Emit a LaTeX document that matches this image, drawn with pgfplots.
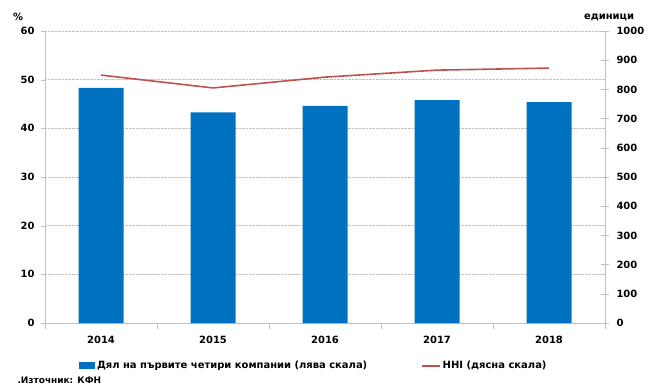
\documentclass[border=0pt]{standalone}
\usepackage{fontspec}
\setmainfont{DejaVu Sans}
\usepackage{pgfplots}
\pgfplotsset{compat=1.18}
\definecolor{barblue}{HTML}{0070C0}
\definecolor{hhired}{HTML}{C0504D}
\definecolor{axgray}{HTML}{BFBFBF}
\newcommand{\lbl}{\bfseries\fontsize{10}{12}\selectfont}
\begin{document}
\begin{tikzpicture}
\pgfplotsset{
  base/.style={
    scale only axis, width=560bp, height=292bp,
    at={(0,0)}, anchor=south west,
    xmin=-0.5, xmax=4.5,
    tick label style={font=\lbl, text=black},
    axis line style={axgray},
    tick style={axgray},
    major tick length=4bp,
  }
}
% bars, left scale
\begin{axis}[base,
  ymin=0, ymax=60, ytick={0,10,...,60},
  yticklabels={0,10,20,30,40,50,60},
  yticklabel style={xshift=-3bp},
  axis y line*=left, axis x line*=bottom,
  xtick={0,...,4}, xticklabels={2014,2015,2016,2017,2018},
  major x tick style={draw=none},
  minor xtick={-0.5,0.5,...,4.5},
  minor tick length=6bp,
  tick align=outside,
  xticklabel style={yshift=-6bp},
  ymajorgrids, grid style={densely dotted, gray!50},
  legend style={at={(0.48,-0.147)}, anchor=center, draw=none, fill=none,
    font=\lbl, legend columns=2,
    /tikz/every even column/.append style={column sep=52bp}},
]
\addplot[ybar, bar width=45bp, fill=barblue, draw=none,
  legend image code/.code={\fill[barblue] (0bp,-3.5bp) rectangle (16bp,3.5bp);}]
  coordinates {(0,48.3)(1,43.3)(2,44.6)(3,45.8)(4,45.4)};
\addlegendentry{Дял на първите четири компании (лява скала)}
\addlegendimage{legend image code/.code={\draw[hhired, line width=1.5pt] (0bp,0bp) -- (18bp,0bp);}}
\addlegendentry{HHI (дясна скала)}
\end{axis}
% HHI, right scale
\begin{axis}[base,
  ymin=0, ymax=1000, ytick={0,100,...,1000},
  yticklabels={0,100,200,300,400,500,600,700,800,900,1000},
  axis y line*=right, axis x line=none,
  tick align=center, major tick length=8bp,
  yticklabel style={xshift=4bp},
]
\addplot[hhired, line width=1.6bp, mark=none]
  coordinates {(0,849)(1,805)(2,842)(3,866)(4,873)};
\end{axis}
\node[font=\lbl] at (-27bp,306bp) {\%};
\node[font=\lbl] at (564bp,306bp) {единици};
\node[font=\bfseries\fontsize{9}{11}\selectfont, anchor=west] at (-31bp,-57bp) {.Източник: КФН};
\pgfresetboundingbox
\path[use as bounding box] (-45bp,-64bp) rectangle (603bp,323bp);
\end{tikzpicture}
\end{document}
